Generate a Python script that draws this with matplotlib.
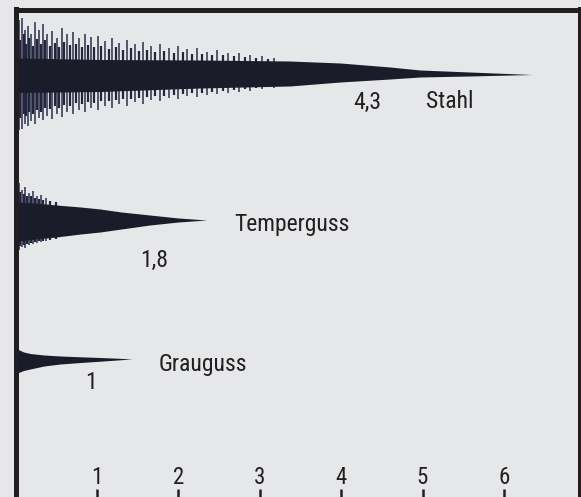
import numpy as np
import matplotlib
matplotlib.use('Agg')
import matplotlib.pyplot as plt
from matplotlib import font_manager

installed = {f.name for f in font_manager.fontManager.ttflist}
for fam in ['Liberation Sans Narrow', 'Roboto Condensed', 'Archivo Narrow',
            'PT Sans Narrow', 'Fira Sans Condensed', 'IBM Plex Sans Condensed', 'Roboto']:
    if fam in installed:
        break
else:
    fam = 'DejaVu Sans'
plt.rcParams['font.family'] = [fam, 'DejaVu Sans']

BG = '#e6e7e9'
INK = '#231f20'
WAVE = '#1b1c29'
SPIKE = '#474a62'
SPIKE2 = '#23253a'

# x in units of the bottom scale, amplitudes in px above / below each trace centre
ticks = [1, 2, 3, 4, 5, 6]

stahl_x = [0.03, 1.04, 2.27, 3.37, 3.99, 4.60, 4.97, 5.58, 6.35]
stahl_up = [16.5, 15, 14.5, 13.5, 11.5, 7.5, 4.5, 2.5, 0]
stahl_dn = [18, 17, 13.5, 11.5, 7.5, 4.5, 2.5, 1.5, 0]
stahl_spike_x = [0.04, 0.08, 0.12, 0.15, 0.19, 0.24, 0.29, 0.34, 0.39, 0.45,
                 0.51, 0.57, 0.63, 0.71, 0.78, 0.85, 0.93, 1.01, 1.10, 1.19,
                 1.27, 1.37, 1.47, 1.57, 1.66, 1.77, 1.89, 2.00, 2.11, 2.23,
                 2.35, 2.48, 2.61, 2.75, 2.88, 3.03, 3.18]
stahl_spike_up = [54, 56, 44, 48, 40, 52, 44, 50, 40, 43, 36, 46, 40, 42, 36, 40,
                  37, 38, 33, 36, 31, 34, 30, 32, 28, 30, 26, 28, 25, 26, 22, 24,
                  21, 21, 19, 18, 16]
stahl_spike_dn = [56, 55, 50, 52, 47, 50, 44, 46, 42, 45, 40, 43, 38, 40, 36, 38,
                  34, 36, 32, 34, 30, 32, 28, 30, 26, 27, 24, 25, 22, 23, 21, 20,
                  19, 18, 17, 15, 14]
stahl_mid_x = [0.06, 0.10, 0.135, 0.17, 0.215, 0.265, 0.315, 0.365, 0.42, 0.48,
               0.54, 0.60, 0.67, 0.745, 0.815, 0.89, 0.97, 1.055, 1.145, 1.23,
               1.32, 1.42, 1.52, 1.615, 1.715, 1.83, 1.945, 2.055, 2.17, 2.29,
               2.415, 2.545, 2.68, 2.815, 2.955, 3.105]
stahl_mid_up = [34, 40, 30, 36, 28, 35, 30, 34, 28, 31, 27, 32, 29, 30, 27, 29,
                27, 28, 25, 27, 24, 26, 23, 24, 22, 23, 21, 22, 20, 20, 19, 19,
                18, 17, 16, 15]
stahl_mid_dn = [44, 40, 42, 38, 40, 36, 38, 34, 35, 32, 34, 31, 32, 29, 30, 28,
                29, 27, 27, 26, 25, 25, 24, 23, 22, 22, 21, 20, 19, 19, 18, 17,
                16, 15, 14, 13]

temper_x = [0.03, 0.25, 0.5, 0.8, 1.04, 1.3, 1.65, 2.0, 2.35]
temper_up = [18, 17, 15, 13, 11, 8, 5, 2, 0]
temper_dn = [21, 19, 17, 14, 12, 9, 5, 2, 0]
temper_spike_x = [0.04, 0.08, 0.12, 0.16, 0.21, 0.26, 0.31, 0.37]
temper_spike_up = [37, 30, 33, 27, 29, 24, 25, 22]
temper_spike_dn = [30, 27, 28, 25, 24, 23, 22, 21]
temper_mid_x = [0.06, 0.10, 0.14, 0.185, 0.235, 0.285, 0.34, 0.42, 0.5]
temper_mid_up = [28, 26, 24, 24, 22, 21, 20, 19, 18]
temper_mid_dn = [26, 25, 24, 23, 22, 21, 21, 20, 19]

grau_x = [0.02, 0.1, 0.18, 0.35, 0.55, 0.8, 1.04, 1.25, 1.43]
grau_up = [10, 7, 5.5, 4, 3, 2.2, 1.5, 0.8, 0]
grau_dn = [14, 11.5, 10, 7, 5, 3.5, 2.2, 1, 0]

fig = plt.figure(figsize=(5.81, 4.97), dpi=100, facecolor=BG)
ax = fig.add_axes([15.5 / 581, 0, (580 - 15.5) / 581, 487.5 / 497])
ax.set_facecolor(BG)
ax.set_xlim(0, 564.5 / 81.4)
ax.set_ylim(497, 9.5)


def spikes(cy, sx, sup, sdn, color, lw):
    ax.vlines(sx, cy - np.array(sup), cy + np.array(sdn), color=color, lw=lw, zorder=2)


def trace(cy, x, up, dn):
    ax.fill_between(x, cy - np.array(up), cy + np.array(dn), color=WAVE, lw=0, zorder=3)


spikes(74.5, stahl_spike_x, stahl_spike_up, stahl_spike_dn, SPIKE, 1.3)
spikes(74.5, stahl_mid_x, stahl_mid_up, stahl_mid_dn, SPIKE2, 1.6)
trace(74.5, stahl_x, stahl_up, stahl_dn)

spikes(220, temper_spike_x, temper_spike_up, temper_spike_dn, SPIKE, 1.3)
spikes(220, temper_mid_x, temper_mid_up, temper_mid_dn, SPIKE2, 1.6)
trace(220, temper_x, temper_up, temper_dn)

trace(359, grau_x, grau_up, grau_dn)

txt = dict(color=INK, fontsize=17, ha='center', va='baseline')
ax.text(4.32, 108.5, '4,3', **txt)
ax.text(5.34, 108, 'Stahl', **txt)
ax.text(3.39, 231, 'Temperguss', **txt)
ax.text(1.70, 266.5, '1,8', **txt)
ax.text(2.30, 371.5, 'Grauguss', **txt)
ax.text(0.93, 389, '1', **txt)

for s in ['left', 'top', 'right']:
    ax.spines[s].set_color(INK)
    ax.spines[s].set_linewidth(3.6)
ax.spines['bottom'].set_visible(False)

ax.set_yticks([])
ax.set_xticks(ticks)
ax.set_xticklabels([str(t) for t in ticks])
ax.tick_params(axis='x', direction='in', length=6, width=1.8, color=INK,
               pad=-22.5, labelsize=16.5, labelcolor=INK)

fig.savefig('out.png', dpi=100, facecolor=BG)
